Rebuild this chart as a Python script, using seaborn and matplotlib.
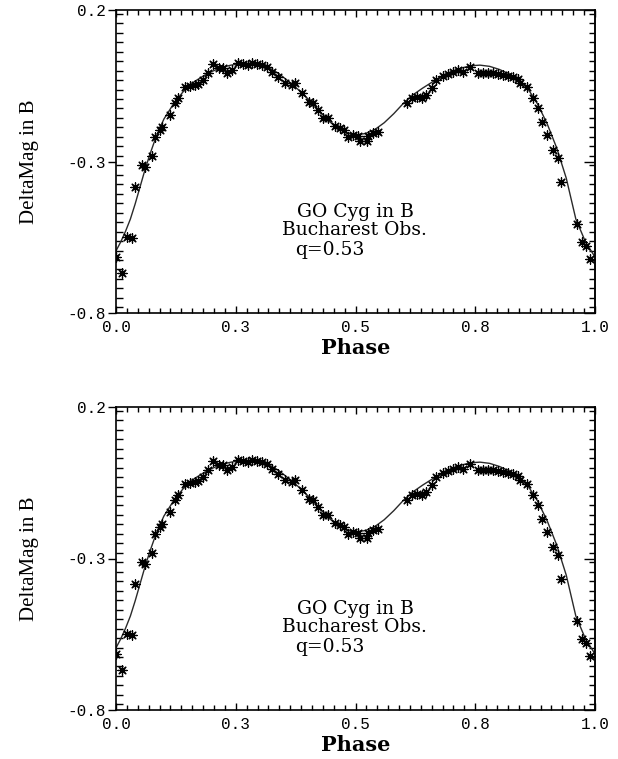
import numpy as np
import pandas as pd
import matplotlib
matplotlib.use("Agg")
import matplotlib.pyplot as plt
from matplotlib.ticker import FixedLocator, MultipleLocator
import seaborn as sns

# ---------------- data ----------------
obs_phase = [0.001, 0.012, 0.022, 0.033, 0.040, 0.054, 0.061, 0.075, 0.081, 0.092,
             0.095, 0.113, 0.123, 0.130, 0.144, 0.154, 0.165, 0.172, 0.182, 0.193,
             0.203, 0.214, 0.224, 0.231, 0.242, 0.255, 0.266, 0.276, 0.283, 0.294,
             0.304, 0.315, 0.325, 0.339, 0.353, 0.367, 0.374, 0.388, 0.402, 0.412,
             0.422, 0.433, 0.443, 0.457, 0.468, 0.475, 0.485, 0.495, 0.506, 0.509,
             0.523, 0.527, 0.537, 0.547, 0.607, 0.617, 0.628, 0.638, 0.648, 0.659,
             0.669, 0.683, 0.694, 0.704, 0.715, 0.725, 0.739, 0.756, 0.767, 0.777,
             0.788, 0.798, 0.808, 0.819, 0.829, 0.840, 0.843, 0.857, 0.871, 0.882,
             0.889, 0.899, 0.913, 0.923, 0.930, 0.962, 0.972, 0.981, 0.990]
obs_mag = [-0.614, -0.669, -0.548, -0.553, -0.383, -0.312, -0.317, -0.282, -0.218, -0.196,
           -0.185, -0.147, -0.108, -0.091, -0.055, -0.051, -0.048, -0.045, -0.031, -0.007,
           0.022, 0.008, 0.008, -0.009, 0.002, 0.024, 0.022, 0.018, 0.024, 0.022,
           0.018, 0.013, -0.004, -0.020, -0.042, -0.048, -0.042, -0.075, -0.103, -0.108,
           -0.130, -0.157, -0.157, -0.183, -0.190, -0.196, -0.220, -0.213, -0.216, -0.231,
           -0.231, -0.216, -0.207, -0.202, -0.108, -0.091, -0.086, -0.091, -0.081, -0.058,
           -0.031, -0.018, -0.011, -0.004, 0.002, -0.004, 0.011, -0.007, -0.007, -0.007,
           -0.009, -0.011, -0.015, -0.018, -0.020, -0.029, -0.042, -0.053, -0.091, -0.124,
           -0.169, -0.213, -0.262, -0.290, -0.367, -0.506, -0.565, -0.579, -0.623]

model_phase = [0.000, 0.010, 0.020, 0.030, 0.040, 0.050, 0.060, 0.070, 0.080, 0.090,
               0.100, 0.120, 0.140, 0.160, 0.180, 0.200, 0.220, 0.240, 0.260, 0.280,
               0.300, 0.320, 0.340, 0.360, 0.380, 0.400, 0.420, 0.440, 0.460, 0.480,
               0.500, 0.520, 0.540, 0.560, 0.580, 0.600, 0.620, 0.640, 0.660, 0.680,
               0.700, 0.720, 0.740, 0.760, 0.780, 0.800, 0.820, 0.840, 0.860, 0.880,
               0.900, 0.920, 0.940, 0.960, 0.980, 1.000]
model_mag = [-0.595, -0.565, -0.530, -0.490, -0.440, -0.385, -0.330, -0.280, -0.235, -0.195,
             -0.160, -0.110, -0.070, -0.040, -0.020, -0.003, 0.010, 0.018, 0.023, 0.024,
             0.020, 0.008, -0.010, -0.035, -0.062, -0.092, -0.125, -0.160, -0.188, -0.205,
             -0.212, -0.208, -0.195, -0.172, -0.142, -0.108, -0.080, -0.058, -0.038, -0.020,
             -0.005, 0.008, 0.016, 0.018, 0.014, 0.004, -0.010, -0.030, -0.060, -0.110,
             -0.175, -0.255, -0.355, -0.490, -0.565, -0.615]

x_ticks = [0.0, 0.25, 0.5, 0.75, 1.0]
x_ticklabels = ["0.0", "0.3", "0.5", "0.8", "1.0"]
y_ticks = [0.2, -0.3, -0.8]
y_ticklabels = ["0.2", "-0.3", "-0.8"]
annot_lines = ["GO Cyg in B", "Bucharest Obs.", "q=0.53"]
x_label = "Phase"
y_label = "DeltaMag in B"

obs = pd.DataFrame({"phase": obs_phase, "mag": obs_mag})
model = pd.DataFrame({"phase": model_phase, "mag": model_mag})

# ---------------- styling ----------------
sns.set_theme(style="ticks")
plt.rcParams["font.family"] = ["DejaVu Serif"]
plt.rcParams["axes.linewidth"] = 1.2

W, H = 618, 759
fig = plt.figure(figsize=(W / 100, H / 100), dpi=100)

def px_axes(left, top, right, bottom):
    return fig.add_axes([left / W, 1 - bottom / H, (right - left) / W, (bottom - top) / H])

tick_font = {"family": "Liberation Mono", "size": 11.5}

def draw_panel(ax):
    sns.lineplot(data=model, x="phase", y="mag", ax=ax, color="#2a2a2a",
                 linewidth=1.0, sort=False, legend=False)
    sns.scatterplot(data=obs, x="phase", y="mag", ax=ax, marker=(8, 2, 0),
                    s=45, color="black", edgecolor="black", linewidth=0.9,
                    legend=False, zorder=3)
    ax.set_xlim(0, 1)
    ax.set_ylim(-0.8, 0.2)

    ax.xaxis.set_major_locator(FixedLocator(x_ticks))
    ax.set_xticklabels(x_ticklabels, fontdict=tick_font)
    ax.xaxis.set_minor_locator(MultipleLocator(0.25 / 11))
    ax.yaxis.set_major_locator(FixedLocator(y_ticks))
    ax.set_yticklabels(y_ticklabels, fontdict=tick_font)
    ax.yaxis.set_minor_locator(MultipleLocator(0.5 / 16))

    ax.tick_params(axis="x", which="both", direction="in", top=True, bottom=True,
                   colors="black", width=1.0)
    ax.tick_params(axis="x", which="major", length=5, pad=5)
    ax.tick_params(axis="x", which="minor", length=3.5)
    ax.tick_params(axis="y", which="both", right=False, left=True, colors="black", width=1.0)
    ax.tick_params(axis="y", which="major", direction="out", length=5.8, pad=1.5)
    ax.tick_params(axis="y", which="minor", direction="in", length=5)

    sec = ax.secondary_yaxis("right")
    sec.yaxis.set_major_locator(FixedLocator(y_ticks))
    sec.yaxis.set_minor_locator(MultipleLocator(0.5 / 16))
    sec.tick_params(axis="y", which="both", direction="in", labelright=False,
                    colors="black", width=1.0)
    sec.tick_params(axis="y", which="major", length=8)
    sec.tick_params(axis="y", which="minor", length=4.3)
    sec.spines["right"].set_linewidth(1.2)

    for s in ax.spines.values():
        s.set_color("black")
        s.set_linewidth(1.2)

    ax.set_xlabel(x_label, fontsize=15, fontweight="bold", family="DejaVu Serif",
                  color="black")
    ax.xaxis.set_label_coords(0.5, -0.083)
    ax.xaxis.label.set_va("top")
    ax.set_ylabel(y_label, fontsize=15, family="Liberation Serif", color="black")
    ax.yaxis.set_label_coords(-0.16, 0.5)

    ax.text(0.50, 0.333, annot_lines[0], transform=ax.transAxes, ha="center",
            va="center", fontsize=13.5, family="DejaVu Serif", color="black")
    ax.text(0.497, 0.274, annot_lines[1], transform=ax.transAxes, ha="center",
            va="center", fontsize=13.5, family="DejaVu Serif", color="black")
    ax.text(0.374, 0.208, annot_lines[2], transform=ax.transAxes, ha="left",
            va="center", fontsize=13.5, family="DejaVu Serif", color="black")

ax1 = px_axes(116, 10, 595, 313)
ax2 = px_axes(116, 407, 595, 710)
draw_panel(ax1)
draw_panel(ax2)

fig.savefig("out.png", dpi=100)
